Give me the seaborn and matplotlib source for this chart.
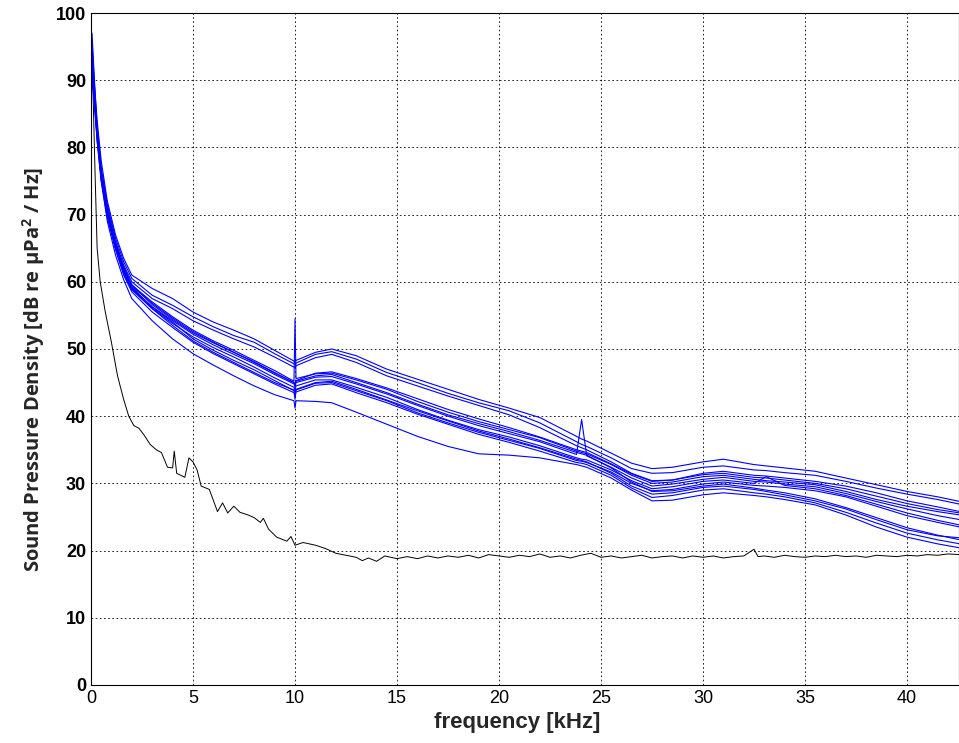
import numpy as np
import pandas as pd
import seaborn as sns
import matplotlib.pyplot as plt

# frequency grid (kHz) shared by the blue spectra
freq = [0.05, 0.15, 0.3, 0.5, 0.8, 1.2, 1.6, 2.0, 3.0, 4.0, 5.0, 6.0, 7.0, 8.0, 9.0,
        9.95, 10.0, 10.05, 11.0, 11.8, 13.0, 14.5, 16.0, 17.5, 19.0, 20.5, 22.0,
        23.8, 24.05, 24.3, 25.5, 26.5, 27.5, 28.5, 30.0, 31.0, 32.5, 33.1, 34.0,
        35.5, 37.0, 38.5, 40.0, 41.5, 42.6]

# sound pressure density of each recording (dB re uPa^2/Hz)
spd_01 = [95, 90, 84, 78, 72, 67, 63.5, 61, 59, 57.5, 55.5, 54, 52.8, 51.5, 49.8,
          48.2, 48, 48.3, 49.5, 50, 49, 47, 45.5, 44, 42.5, 41.2, 39.8,
          37, 36.6, 36.3, 34.5, 33, 32.2, 32.4, 33.2, 33.6, 32.8, 32.6, 32.3,
          31.8, 30.8, 29.8, 28.8, 28, 27.3]
spd_02 = [94, 89, 83, 77, 71.5, 66.5, 63, 60.5, 58, 56.5, 54.8, 53.3, 52, 51, 49.3,
          47.8, 47.6, 47.9, 49.2, 49.6, 48.5, 46.5, 45, 43.4, 42, 40.8, 39,
          36.2, 35.8, 35.5, 33.8, 32.2, 31.5, 31.6, 32.4, 32.6, 32, 31.9, 31.6,
          31.2, 30.3, 29.3, 28.4, 27.6, 26.9]
spd_03 = [92, 88, 82.5, 76.5, 71, 66, 62.5, 60, 57.5, 56, 54.2, 52.8, 51.5, 50.3, 48.8,
          47.3, 47.2, 47.5, 48.7, 49.2, 48, 46, 44.5, 43, 41.6, 40.2, 38.3,
          35.6, 35.3, 35, 33.2, 31.5, 30.4, 30.5, 31.5, 31.8, 31.2, 31.1, 30.8,
          30.3, 29.6, 28.6, 27.4, 26.5, 25.8]
spd_04 = [96, 90, 82, 76, 70.5, 65.5, 62, 59.5, 57, 54.8, 52.8, 51.2, 49.8, 48.3, 46.8,
          45.2, 54.5, 45.6, 46.3, 46.4, 45.4, 44, 42.2, 40.6, 39.2, 38, 36.8,
          34.8, 34.6, 34.4, 32.8, 31.2, 30, 30.2, 31, 31.2, 30.6, 30.4, 30.2,
          29.8, 28.8, 27.6, 26.6, 25.8, 25.3]
spd_05 = [93, 88.5, 82, 75.5, 70, 65, 61.5, 59, 56.3, 54.2, 52.2, 50.6, 49.2, 47.8, 46.2,
          44.8, 44.3, 45, 45.8, 45.9, 44.8, 43.3, 41.6, 40, 38.6, 37.4, 36.2,
          34.3, 39.5, 34.1, 32.4, 30.8, 29.6, 29.9, 30.6, 30.9, 30.3, 30.2, 29.9,
          29.5, 28.5, 27.3, 26.2, 25.2, 24.6]
spd_06 = [91, 87.5, 81.5, 75.5, 70, 65, 61.2, 58.8, 56, 53.8, 51.8, 50.2, 48.8, 47.3, 45.7,
          44.3, 43.8, 44.5, 45.4, 45.4, 44.3, 42.8, 41, 39.4, 38, 36.9, 35.6,
          33.8, 33.6, 33.5, 32, 30.4, 29.2, 29.5, 30.3, 30.5, 30, 31, 29.7,
          29.2, 28.2, 26.9, 25.6, 24.5, 23.8]
spd_07 = [95, 89, 82.5, 76, 70.3, 65.2, 61.8, 59.2, 56.2, 54, 51.5, 49.8, 48.3, 46.9, 45.3,
          43.8, 42.5, 43.9, 44.9, 45, 43.8, 42.3, 40.5, 39, 37.6, 36.4, 35.2,
          33.4, 33.3, 33.1, 31.7, 30, 28.9, 29.1, 29.9, 30.2, 29.7, 29.6, 29.4,
          28.9, 28, 26.6, 25.2, 24.2, 23.5]
spd_08 = [92, 88, 82, 75.8, 70.2, 65.2, 61.5, 59, 56, 53.5, 51.2, 49.5, 48, 46.5, 45,
          43.9, 43.5, 44, 45, 45.2, 44, 42.4, 40.8, 39.3, 37.8, 36.6, 35.3,
          33.6, 33.4, 33.2, 31.5, 29.6, 28.4, 28.6, 29.4, 29.6, 29.1, 28.8, 28.3,
          27.4, 26.2, 24.6, 23.1, 22.2, 21.9]
spd_09 = [97, 91, 83, 76.5, 70.8, 65.8, 62.2, 59.6, 56.6, 54.4, 52.4, 50.9, 49.5, 48, 46.4,
          45, 44.6, 45.2, 46, 46.2, 45, 43.5, 41.8, 40.2, 38.9, 37.7, 36.4,
          34.6, 34.4, 34.2, 32.3, 30.2, 28.8, 28.9, 29.6, 29.9, 29.3, 29, 28.6,
          27.7, 26.4, 24.9, 23.4, 22.3, 21.6]
spd_10 = [90, 87, 81, 75, 69.5, 64.8, 61, 58.5, 55.5, 53.2, 51, 49.3, 47.8, 46.3, 44.8,
          43.5, 43, 43.6, 44.6, 44.8, 43.5, 42, 40.3, 38.8, 37.3, 36.1, 34.8,
          33.1, 33, 32.8, 31.2, 29.3, 27.9, 28.2, 29, 29.2, 28.6, 28.4, 28,
          27.1, 25.7, 24.1, 22.6, 21.6, 21]
spd_11 = [92, 87.5, 81, 75, 69, 64, 60.3, 57.5, 54.2, 51.5, 49.3, 47.6, 46, 44.5, 43.2,
          42.3, 41.2, 42.3, 42.2, 42, 40.6, 38.8, 37, 35.5, 34.4, 34.2, 33.8,
          32.8, 32.6, 32.4, 30.8, 29, 27.4, 27.5, 28.3, 28.6, 28.2, 28, 27.6,
          26.8, 25.3, 23.5, 22, 21, 20.4]
spd_12 = [94, 89, 82.5, 76.2, 70.6, 65.6, 62, 59.3, 56.8, 54.6, 52.6, 51, 49.5, 48.1, 46.5,
          45, 44.8, 45.3, 46.4, 46.6, 45.6, 44.2, 42.6, 41, 39.6, 38.3, 36.9,
          35, 34.8, 34.6, 32.9, 31.4, 30.3, 30.5, 31.3, 31.5, 30.9, 30.8, 30.5,
          30, 29.2, 28.1, 27, 26.1, 25.6]

spectra = [spd_01, spd_02, spd_03, spd_04, spd_05, spd_06,
           spd_07, spd_08, spd_09, spd_10, spd_11, spd_12]

# background noise floor (black line)
noise_freq = [0.05, 0.1, 0.2, 0.3, 0.45, 0.7, 1.0, 1.3, 1.6, 1.85, 2.1, 2.35, 2.6, 2.9,
              3.2, 3.45, 3.75, 4.0, 4.08, 4.2, 4.6, 4.8, 5.0, 5.2, 5.4, 5.8, 6.2, 6.45,
              6.7, 7.0, 7.3, 7.7, 8.0, 8.3, 8.45, 8.7, 9.1, 9.6, 9.8, 10.0, 10.4, 11.0,
              11.5, 12.0, 12.5, 13.0, 13.3, 13.6, 14.0, 14.4, 15.0, 15.5, 16.0, 16.5,
              17.0, 17.5, 18.0, 18.5, 19.0, 19.5, 20.0, 20.5, 21.0, 21.5, 22.0, 22.5,
              23.0, 23.5, 24.0, 24.5, 25.0, 25.5, 26.0, 26.5, 27.0, 27.5, 28.0, 28.5,
              29.0, 29.5, 30.0, 30.5, 31.0, 31.5, 32.0, 32.5, 32.7, 33.0, 33.5, 34.0,
              34.5, 35.0, 35.5, 36.0, 36.5, 37.0, 37.5, 38.0, 38.5, 39.0, 39.5, 40.0,
              40.5, 41.0, 41.5, 42.0, 42.6]
noise_spd = [93, 88, 76, 65, 60, 55.5, 51, 46, 42.5, 40, 38.6, 38.2, 37.2, 35.8,
             35, 34.6, 32.4, 32.3, 34.8, 31.5, 30.9, 33.8, 33.2, 32, 29.6, 29.1, 25.8, 27.1,
             25.6, 26.6, 25.7, 25.3, 24.9, 24.2, 24.8, 23.2, 22, 21.4, 22.1, 20.8, 21.2, 20.8,
             20.3, 19.6, 19.3, 19, 18.5, 18.9, 18.4, 19.2, 18.8, 19.1, 18.8, 19.2,
             18.9, 19.2, 19.0, 19.3, 18.9, 19.4, 19.2, 19.0, 19.3, 19.1, 19.5, 19.0,
             19.2, 18.9, 19.3, 19.6, 19.0, 19.2, 18.9, 19.1, 19.3, 18.9, 19.1, 19.2,
             18.9, 19.2, 19.0, 19.2, 18.9, 19.1, 19.2, 20.2, 19.1, 19.2, 19.0, 19.3,
             19.1, 19.0, 19.2, 19.1, 19.3, 19.1, 19.2, 19.0, 19.3, 19.2, 19.1, 19.3,
             19.2, 19.4, 19.3, 19.5, 19.4]

# long table for seaborn
rows = []
for i, s in enumerate(spectra):
    for f, v in zip(freq, s):
        rows.append({"freq": f, "spd": v, "rec": i})
df = pd.DataFrame(rows)
noise = pd.DataFrame({"freq": noise_freq, "spd": noise_spd})

sns.set_theme(style="white")
plt.rcParams["font.family"] = ["Liberation Sans", "DejaVu Sans"]
plt.rcParams["mathtext.default"] = "regular"

fig = plt.figure(figsize=(9.59, 7.43), dpi=100)
ax = fig.add_axes([0.0949, 0.0781, 0.9051, 0.9044])

sns.lineplot(data=noise, x="freq", y="spd", color="black", lw=0.7, ax=ax,
             estimator=None, sort=False)
sns.lineplot(data=df, x="freq", y="spd", units="rec", estimator=None,
             color="#0000ff", lw=0.8, ax=ax, sort=False)

ax.set_xlim(0, 42.55)
ax.set_ylim(0, 100)
ax.set_xticks(np.arange(0, 45, 5))
ax.set_yticks(np.arange(0, 101, 10))
ax.grid(True, color="black", linestyle=(0, (2, 3)), lw=0.6)
for sp in ax.spines.values():
    sp.set_color("black")
    sp.set_linewidth(0.8)
ax.tick_params(direction="in", length=5, width=0.8, labelsize=13, colors="black")
for lab in ax.get_yticklabels():
    lab.set_fontweight("bold")

ax.set_xlabel("frequency [kHz]", fontsize=16, fontweight="bold")
ax.xaxis.set_label_coords(0.491, -0.040)
ax.set_ylabel("Sound Pressure Density [dB re μPa$^2$ / Hz]", fontsize=14.5,
              fontweight="bold", family=["Open Sans", "DejaVu Sans"])
ax.yaxis.set_label_coords(-0.051, 0.469)

fig.savefig("out.png", dpi=100)
